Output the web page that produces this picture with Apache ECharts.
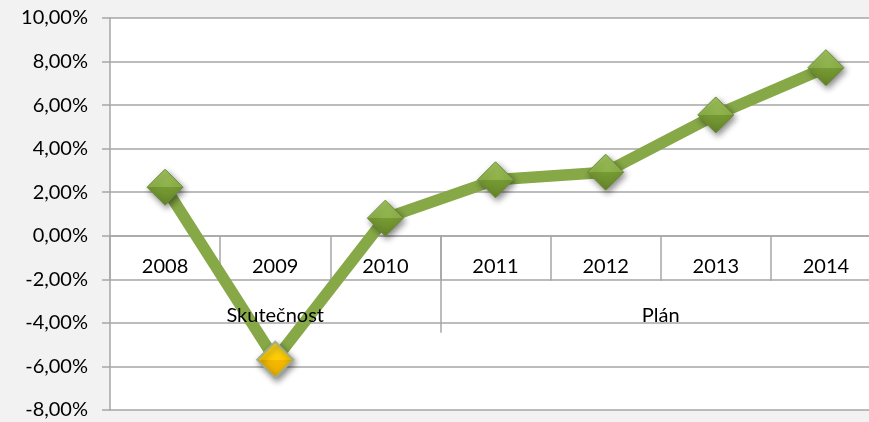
<!DOCTYPE html>
<html>
<head>
<meta charset="utf-8">
<script src="https://cdn.jsdelivr.net/npm/echarts@6/dist/echarts.min.js"></script>
<style>
html,body{margin:0;padding:0;background:#f2f2f2;}
#c{width:869px;height:422px;}
</style>
</head>
<body>
<div id="c"></div>
<script>
const categories = ['2008', '2009', '2010', '2011', '2012', '2013', '2014'];
const values = [2.23, -5.69, 0.81, 2.57, 2.92, 5.55, 7.72];
const groupNames = ['Skutečnost', 'Plán'];
const groupSpans = [3, 4];
const highlightCategory = '2009';
const yMin = -8, yMax = 10, yInterval = 2;

// derived group label centers and separators (in category units)
const groupCenters = [], groupBounds = [];
let acc = 0;
groupSpans.forEach((s, i) => {
  groupCenters.push(acc + s / 2);
  acc += s;
  if (i < groupSpans.length - 1) groupBounds.push(acc);
});

const GRID_H = 392;
// place the category axes on the zero line
const zeroOffset = -((0 - yMin) / (yMax - yMin)) * GRID_H;

const FONT = 'Lato';
const greenFill = new echarts.graphic.LinearGradient(0, 0, 0, 1, [
  {offset: 0, color: '#a0c35c'},
  {offset: 0.5, color: '#8cb04a'},
  {offset: 0.5, color: '#779a33'},
  {offset: 1, color: '#65852a'}
]);
const yellowFill = new echarts.graphic.LinearGradient(0, 0, 0, 1, [
  {offset: 0, color: '#ffd726'},
  {offset: 0.5, color: '#ffcc00'},
  {offset: 0.5, color: '#f4b800'},
  {offset: 1, color: '#e9ad00'}
]);

const seriesData = values.map((v, i) => {
  const hl = categories[i] === highlightCategory;
  return {
    value: v,
    itemStyle: hl ? {color: yellowFill, borderColor: '#a3ad86', borderWidth: 2}
                  : {color: greenFill, borderColor: '#6c8b38', borderWidth: 1}
  };
});

const chart = echarts.init(document.getElementById('c'), null, {renderer: 'canvas'});
chart.setOption({
  backgroundColor: '#f2f2f2',
  animation: false,
  grid: {
    left: 110, top: 18, width: 771, height: GRID_H,
    show: true, backgroundColor: '#ffffff', borderWidth: 0,
    containLabel: false,
    outerBoundsMode: 'none'
  },
  xAxis: [
    {
      type: 'category',
      data: categories,
      position: 'bottom',
      offset: zeroOffset,
      boundaryGap: true,
      axisLine: {show: true, onZero: false, lineStyle: {color: '#a6a6a6', width: 1.5}},
      axisTick: {show: true, length: 45, inside: false, lineStyle: {color: '#a6a6a6', width: 1.5}},
      axisLabel: {margin: 21, fontFamily: FONT, fontSize: 20, color: '#000'},
      splitLine: {show: false}
    },
    {
      type: 'value',
      min: 0,
      max: categories.length,
      position: 'bottom',
      offset: zeroOffset,
      z: 10,
      axisLine: {show: false, onZero: false},
      axisTick: {show: true, customValues: groupBounds, length: 97, lineStyle: {color: '#a6a6a6', width: 1.5}},
      axisLabel: {
        show: true, customValues: groupCenters, margin: 70,
        fontFamily: FONT, fontSize: 20, color: '#000',
        formatter: function (v) {
          const idx = groupCenters.indexOf(v);
          return idx >= 0 ? groupNames[idx] : '';
        }
      },
      splitLine: {show: false}
    }
  ],
  yAxis: {
    type: 'value',
    min: yMin, max: yMax, interval: yInterval,
    axisLine: {show: true, onZero: false, lineStyle: {color: '#a6a6a6', width: 1.5}},
    axisTick: {show: true, length: 8, lineStyle: {color: '#a6a6a6', width: 1.5}},
    axisLabel: {
      margin: 22, fontFamily: FONT, fontSize: 20, color: '#000',
      formatter: v => v.toFixed(2).replace('.', ',') + '%'
    },
    splitLine: {show: true, lineStyle: {color: '#a6a6a6', width: 1.5}}
  },
  series: [{
    type: 'line',
    xAxisIndex: 0,
    data: seriesData,
    symbol: 'diamond',
    symbolSize: 36,
    lineStyle: {color: '#86a846', width: 11.5},
    itemStyle: {
      shadowColor: 'rgba(0,0,0,0.45)', shadowBlur: 6, shadowOffsetX: 2, shadowOffsetY: 3
    },
    z: 5
  }]
});
</script>
</body>
</html>
